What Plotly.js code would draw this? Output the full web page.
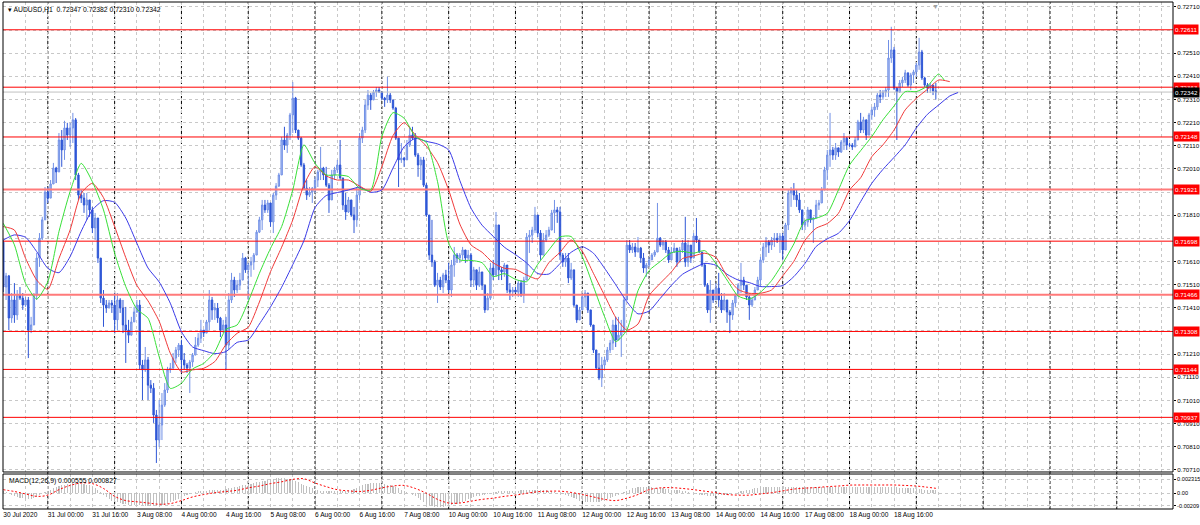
<!DOCTYPE html>
<html><head><meta charset="utf-8">
<script src="https://cdn.plot.ly/plotly-3.0.1.min.js"></script>
<style>html,body{margin:0;padding:0;background:#fff;}#chart{width:1200px;height:525px;}</style>
</head><body><div id="chart"></div>
<script>
const symbolName = 'AUDUSD,H1';
const firstOpen = 0.71694;
const closePrices = [
0.71500,0.71548,0.71366,0.71444,0.71379,0.71465,0.71452,0.71422,0.71444,0.71314,
0.71336,0.71465,0.71625,0.71711,0.71790,0.71910,0.71884,0.71945,0.72014,0.71997,
0.72135,0.72092,0.72187,0.72156,0.72187,0.72222,0.71984,0.71897,0.71884,0.71854,
0.71876,0.71833,0.71755,0.71798,0.71625,0.71452,0.71422,0.71409,0.71431,0.71422,
0.71358,0.71444,0.71409,0.71336,0.71314,0.71292,0.71349,0.71392,0.71422,0.71163,
0.71142,0.71185,0.71076,0.71063,0.70947,0.70839,0.70904,0.70990,0.71055,0.71142,
0.71150,0.71193,0.71228,0.71249,0.71185,0.71163,0.71150,0.71176,0.71206,0.71249,
0.71279,0.71314,0.71301,0.71349,0.71444,0.71401,0.71409,0.71366,0.71314,0.71336,
0.71249,0.71444,0.71530,0.71487,0.71508,0.71530,0.71625,0.71574,0.71595,0.71608,
0.71638,0.71737,0.71790,0.71854,0.71833,0.71863,0.71781,0.71897,0.71936,0.71984,
0.72135,0.72113,0.72156,0.72243,0.72316,0.72178,0.72143,0.72027,0.71927,0.71897,
0.71910,0.71927,0.71962,0.71997,0.72014,0.71984,0.71940,0.71876,0.71984,0.72006,
0.72027,0.71971,0.71854,0.71824,0.71876,0.71811,0.71790,0.71897,0.72143,0.72178,
0.72286,0.72329,0.72308,0.72342,0.72351,0.72342,0.72316,0.72308,0.72329,0.72308,
0.72273,0.72143,0.72049,0.72057,0.72049,0.72113,0.72156,0.72143,0.72070,0.72027,
0.72049,0.71940,0.71811,0.71638,0.71608,0.71508,0.71530,0.71500,0.71552,0.71530,
0.71487,0.71595,0.71638,0.71625,0.71638,0.71660,0.71625,0.71638,0.71530,0.71574,
0.71508,0.71565,0.71508,0.71401,0.71452,0.71582,0.71552,0.71768,0.71574,0.71565,
0.71595,0.71487,0.71478,0.71487,0.71478,0.71517,0.71465,0.71530,0.71716,0.71724,
0.71746,0.71811,0.71733,0.71638,0.71703,0.71724,0.71746,0.71820,0.71833,0.71824,
0.71638,0.71608,0.71625,0.71539,0.71574,0.71422,0.71358,0.71401,0.71457,0.71474,
0.71401,0.71336,0.71228,0.71150,0.71107,0.71163,0.71185,0.71228,0.71258,0.71336,
0.71271,0.71292,0.71314,0.71444,0.71681,0.71660,0.71673,0.71651,0.71668,0.71625,
0.71582,0.71595,0.71617,0.71638,0.71651,0.71711,0.71681,0.71694,0.71660,0.71617,
0.71651,0.71668,0.71608,0.71660,0.71690,0.71608,0.71681,0.71625,0.71720,0.71703,
0.71651,0.71595,0.71508,0.71401,0.71487,0.71444,0.71495,0.71444,0.71401,0.71444,
0.71392,0.71379,0.71431,0.71465,0.71508,0.71530,0.71508,0.71457,0.71422,0.71444,
0.71487,0.71530,0.71617,0.71673,0.71694,0.71681,0.71703,0.71711,0.71703,0.71720,
0.71660,0.71768,0.71906,0.71919,0.71897,0.71876,0.71833,0.71768,0.71781,0.71833,
0.71790,0.71798,0.71854,0.71863,0.71919,0.72006,0.72070,0.72092,0.72070,0.72101,
0.72083,0.72126,0.72143,0.72113,0.72113,0.72105,0.72135,0.72213,0.72178,0.72222,
0.72156,0.72243,0.72265,0.72278,0.72329,0.72321,0.72342,0.72351,0.72489,0.72524,
0.72359,0.72342,0.72381,0.72394,0.72425,0.72372,0.72416,0.72429,0.72459,0.72515,
0.72403,0.72372,0.72359,0.72372,0.72347,0.72342];
const highPrices = [
0.71703,0.71561,0.71552,0.71474,0.71517,0.71487,0.71500,0.71474,0.71457,0.71457,
0.71371,0.71474,0.71647,0.71733,0.71803,0.71932,0.71932,0.71962,0.72036,0.72019,
0.72165,0.72178,0.72218,0.72209,0.72209,0.72252,0.72230,0.71993,0.71919,0.71906,
0.71906,0.71876,0.71846,0.71820,0.71798,0.71625,0.71487,0.71444,0.71444,0.71444,
0.71474,0.71474,0.71452,0.71444,0.71414,0.71358,0.71371,0.71414,0.71444,0.71444,
0.71185,0.71241,0.71198,0.71098,0.71085,0.70969,0.71012,0.71042,0.71085,0.71155,
0.71172,0.71215,0.71241,0.71258,0.71271,0.71215,0.71172,0.71185,0.71215,0.71284,
0.71301,0.71358,0.71314,0.71358,0.71487,0.71457,0.71431,0.71431,0.71371,0.71358,
0.71371,0.71474,0.71561,0.71544,0.71530,0.71561,0.71647,0.71630,0.71604,0.71630,
0.71647,0.71746,0.71803,0.71876,0.71876,0.71876,0.71863,0.71906,0.71949,0.71993,
0.72148,0.72192,0.72165,0.72252,0.72385,0.72321,0.72178,0.72148,0.72036,0.71962,
0.71932,0.71932,0.71976,0.72006,0.72105,0.72019,0.72019,0.71949,0.72006,0.72019,
0.72049,0.72135,0.71971,0.71906,0.71889,0.71876,0.71846,0.71932,0.72165,0.72192,
0.72308,0.72351,0.72338,0.72351,0.72364,0.72364,0.72342,0.72321,0.72408,0.72338,
0.72308,0.72278,0.72143,0.72122,0.72062,0.72135,0.72192,0.72192,0.72165,0.72079,
0.72062,0.72062,0.71949,0.71811,0.71790,0.71617,0.71561,0.71544,0.71561,0.71574,
0.71604,0.71617,0.71673,0.71647,0.71647,0.71673,0.71660,0.71660,0.71647,0.71587,
0.71574,0.71587,0.71565,0.71508,0.71474,0.71604,0.71617,0.71824,0.71768,0.71587,
0.71604,0.71595,0.71517,0.71500,0.71500,0.71530,0.71530,0.71544,0.71733,0.71746,
0.71760,0.71846,0.71811,0.71746,0.71733,0.71746,0.71760,0.71833,0.71876,0.71846,
0.71846,0.71647,0.71647,0.71647,0.71604,0.71574,0.71422,0.71414,0.71474,0.71487,
0.71474,0.71401,0.71336,0.71228,0.71215,0.71198,0.71198,0.71241,0.71271,0.71358,
0.71371,0.71371,0.71358,0.71457,0.71703,0.71703,0.71690,0.71690,0.71716,0.71673,
0.71647,0.71604,0.71630,0.71647,0.71660,0.71863,0.71716,0.71703,0.71703,0.71673,
0.71673,0.71690,0.71668,0.71673,0.71703,0.71803,0.71703,0.71681,0.71733,0.71798,
0.71703,0.71651,0.71604,0.71517,0.71530,0.71487,0.71517,0.71561,0.71474,0.71474,
0.71444,0.71401,0.71444,0.71474,0.71517,0.71604,0.71544,0.71508,0.71474,0.71457,
0.71500,0.71544,0.71630,0.71690,0.71716,0.71703,0.71716,0.71733,0.71733,0.71733,
0.71733,0.71777,0.71919,0.71932,0.71949,0.71919,0.71906,0.71833,0.71790,0.71846,
0.71833,0.71803,0.71876,0.71876,0.71932,0.72019,0.72092,0.72252,0.72105,0.72122,
0.72101,0.72135,0.72165,0.72148,0.72122,0.72122,0.72148,0.72222,0.72252,0.72235,
0.72222,0.72252,0.72278,0.72295,0.72338,0.72351,0.72351,0.72364,0.72567,0.72624,
0.72537,0.72364,0.72394,0.72408,0.72438,0.72425,0.72425,0.72438,0.72468,0.72576,
0.72524,0.72408,0.72381,0.72381,0.72364,0.72382];
const lowPrices = [
0.71478,0.71444,0.71314,0.71345,0.71345,0.71358,0.71444,0.71401,0.71414,0.71193,
0.71301,0.71336,0.71444,0.71587,0.71703,0.71803,0.71863,0.71884,0.71945,0.71949,
0.71997,0.72019,0.72049,0.72135,0.72105,0.72122,0.71962,0.71876,0.71863,0.71820,
0.71790,0.71803,0.71733,0.71703,0.71604,0.71431,0.71328,0.71388,0.71409,0.71388,
0.71301,0.71314,0.71388,0.71301,0.71172,0.71258,0.71292,0.71349,0.71388,0.71142,
0.71012,0.71133,0.71012,0.71042,0.70913,0.70740,0.70809,0.70839,0.70982,0.71042,
0.71129,0.71142,0.71172,0.71198,0.71129,0.71142,0.71129,0.71042,0.71155,0.71206,
0.71241,0.71258,0.71284,0.71301,0.71314,0.71358,0.71358,0.71345,0.71284,0.71301,
0.71142,0.71228,0.71431,0.71457,0.71474,0.71487,0.71544,0.71561,0.71444,0.71544,
0.71574,0.71673,0.71733,0.71746,0.71820,0.71820,0.71760,0.71733,0.71876,0.71932,
0.71984,0.72092,0.72079,0.72135,0.72165,0.72165,0.72135,0.72019,0.71919,0.71876,
0.71889,0.71863,0.71906,0.71932,0.71962,0.71962,0.71932,0.71820,0.71876,0.71962,
0.71993,0.71962,0.71833,0.71790,0.71820,0.71803,0.71733,0.71760,0.71876,0.72122,
0.72165,0.72265,0.72265,0.72308,0.72321,0.72338,0.72308,0.72278,0.72295,0.72295,
0.72265,0.72135,0.71932,0.72036,0.72019,0.72049,0.72105,0.72135,0.72062,0.71976,
0.71962,0.71932,0.71803,0.71617,0.71587,0.71500,0.71431,0.71487,0.71474,0.71517,
0.71474,0.71457,0.71544,0.71604,0.71604,0.71617,0.71604,0.71617,0.71500,0.71500,
0.71487,0.71500,0.71487,0.71388,0.71401,0.71444,0.71530,0.71544,0.71530,0.71530,
0.71544,0.71474,0.71444,0.71457,0.71474,0.71457,0.71457,0.71431,0.71530,0.71647,
0.71690,0.71733,0.71716,0.71617,0.71638,0.71694,0.71716,0.71746,0.71733,0.71777,
0.71617,0.71587,0.71587,0.71517,0.71530,0.71414,0.71345,0.71358,0.71401,0.71414,
0.71388,0.71328,0.71215,0.71142,0.71098,0.71068,0.71142,0.71176,0.71215,0.71228,
0.71241,0.71271,0.71198,0.71301,0.71444,0.71647,0.71647,0.71630,0.71651,0.71604,
0.71561,0.71544,0.71587,0.71617,0.71630,0.71651,0.71673,0.71660,0.71647,0.71604,
0.71617,0.71647,0.71587,0.71608,0.71647,0.71587,0.71587,0.71604,0.71625,0.71690,
0.71647,0.71587,0.71500,0.71388,0.71345,0.71431,0.71444,0.71414,0.71388,0.71401,
0.71345,0.71301,0.71358,0.71414,0.71457,0.71474,0.71487,0.71444,0.71358,0.71414,
0.71444,0.71487,0.71500,0.71604,0.71630,0.71647,0.71660,0.71673,0.71690,0.71647,
0.71617,0.71660,0.71746,0.71846,0.71876,0.71846,0.71820,0.71746,0.71746,0.71760,
0.71777,0.71690,0.71798,0.71833,0.71863,0.71919,0.71962,0.72019,0.72049,0.72049,
0.72062,0.72079,0.72092,0.72092,0.72105,0.72092,0.72105,0.72135,0.72165,0.72165,
0.72135,0.72156,0.72222,0.72235,0.72265,0.72295,0.72308,0.72321,0.72321,0.72468,
0.72351,0.72135,0.72338,0.72364,0.72381,0.72364,0.72351,0.72381,0.72408,0.72438,
0.72394,0.72364,0.72338,0.72338,0.72329,0.72310];

const firstBarHour = 8;
const tickBars = [0,16,32,48,64,80,96,112,128,144,160,176,192,208,224,240,256,272,288,304,320];
const tickLabels = ['30 Jul 2020','31 Jul 00:00','31 Jul 16:00','3 Aug 08:00','4 Aug 00:00','4 Aug 16:00',
  '5 Aug 08:00','6 Aug 00:00','6 Aug 16:00','7 Aug 08:00','10 Aug 00:00','10 Aug 16:00','11 Aug 08:00',
  '12 Aug 00:00','12 Aug 16:00','13 Aug 08:00','14 Aug 00:00','14 Aug 16:00','17 Aug 08:00','18 Aug 00:00','18 Aug 16:00'];

// Alligator lines as drawn (already shifted forward)
const lipsBar = [0,4,8,12,16,20,24,28,32,36,40,44,48,52,56,60,64,68,72,76,80,84,88,92,96,100,104,108,112,116,120,124,128,132,136,140,144,148,152,156,160,164,168,172,176,180,184,188,192,196,200,204,208,212,216,220,224,228,232,236,240,244,248,252,256,260,264,268,272,276,280,284,288,292,296,300,304,308,312,316,320,324,328,332,336,338];
const lipsVal = [0.71775,0.71682,0.71516,0.71448,0.71523,0.71739,0.71912,0.72034,0.71955,0.71833,0.71646,0.71502,0.71404,0.71365,0.71199,0.71062,0.71084,0.71146,0.71170,0.71221,0.71317,0.71336,0.71437,0.71559,0.71667,0.71761,0.71919,0.72114,0.72034,0.71984,0.71984,0.71977,0.71926,0.71919,0.72150,0.72253,0.72229,0.72150,0.72124,0.71955,0.71689,0.71617,0.71615,0.71605,0.71545,0.71558,0.71533,0.71523,0.71598,0.71660,0.71716,0.71718,0.71631,0.71502,0.71372,0.71264,0.71314,0.71484,0.71571,0.71610,0.71648,0.71654,0.71646,0.71657,0.71602,0.71530,0.71461,0.71447,0.71477,0.71528,0.71602,0.71686,0.71787,0.71797,0.71818,0.71919,0.72027,0.72089,0.72150,0.72222,0.72282,0.72344,0.72344,0.72368,0.72420,0.72394];
const teethBar = [0,4,8,12,16,20,24,28,32,36,40,44,48,52,56,60,64,68,72,76,80,84,88,92,96,100,104,108,112,116,120,124,128,132,136,140,144,148,152,156,160,164,168,172,176,180,184,188,192,196,200,204,208,212,216,220,224,228,232,236,240,244,248,252,256,260,264,268,272,276,280,284,288,292,296,300,304,308,312,316,320,324,328,332,336,340];
const teethVal = [0.71761,0.71746,0.71624,0.71530,0.71490,0.71623,0.71746,0.71905,0.71948,0.71886,0.71761,0.71627,0.71507,0.71440,0.71352,0.71214,0.71133,0.71142,0.71149,0.71178,0.71252,0.71300,0.71326,0.71435,0.71566,0.71672,0.71790,0.71941,0.72020,0.71980,0.71962,0.71962,0.71936,0.71913,0.72020,0.72154,0.72210,0.72157,0.72108,0.72037,0.71919,0.71772,0.71682,0.71650,0.71604,0.71581,0.71576,0.71552,0.71535,0.71605,0.71650,0.71703,0.71654,0.71559,0.71464,0.71369,0.71314,0.71340,0.71463,0.71516,0.71565,0.71623,0.71634,0.71646,0.71628,0.71546,0.71489,0.71473,0.71473,0.71487,0.71548,0.71611,0.71702,0.71754,0.71774,0.71818,0.71919,0.71972,0.72063,0.72114,0.72178,0.72265,0.72315,0.72354,0.72394,0.72387];
const jawBar = [0,4,8,12,16,20,24,28,32,36,40,44,48,52,56,60,64,68,72,76,80,84,88,92,96,100,104,108,112,116,120,124,128,132,136,140,144,148,152,156,160,164,168,172,176,180,184,188,192,196,200,204,208,212,216,220,224,228,232,236,240,244,248,252,256,260,264,268,272,276,280,284,288,292,296,300,304,308,312,316,320,324,328,332,336,340,343];
const jawVal = [0.71703,0.71725,0.71715,0.71653,0.71581,0.71562,0.71631,0.71741,0.71833,0.71873,0.71866,0.71798,0.71689,0.71582,0.71522,0.71430,0.71307,0.71241,0.71225,0.71212,0.71221,0.71261,0.71271,0.71340,0.71414,0.71499,0.71597,0.71700,0.71843,0.71895,0.71908,0.71919,0.71931,0.71909,0.71919,0.72014,0.72106,0.72142,0.72129,0.72118,0.72092,0.71960,0.71841,0.71767,0.71719,0.71672,0.71640,0.71604,0.71558,0.71556,0.71601,0.71650,0.71674,0.71646,0.71581,0.71510,0.71437,0.71384,0.71396,0.71451,0.71507,0.71555,0.71581,0.71602,0.71594,0.71555,0.71530,0.71519,0.71502,0.71502,0.71506,0.71545,0.71602,0.71675,0.71708,0.71732,0.71787,0.71869,0.71948,0.72008,0.72060,0.72114,0.72187,0.72246,0.72286,0.72325,0.72340];

const levels = [0.72611,0.72363,0.72148,0.71921,0.71698,0.71466,0.71308,0.71144,0.70937];
const priceTicks = [0.70710,0.70810,0.70910,0.71010,0.71110,0.71210,0.71310,0.71410,0.71510,0.71610,0.71710,0.71810,0.71910,0.72010,0.72110,0.72210,0.72310,0.72410,0.72510,0.72610,0.72710];

const macdMain = [
0.0004,0.0002,0,-0.0002,-0.0004,-0.0006,-0.0007,-0.0008,-0.0009,-0.0009,
-0.0009,-0.0008,-0.0006,-0.0003,0,0.0002,0.0004,0.0006,0.0008,0.0010,
0.0012,0.0013,0.0014,0.0015,0.0016,0.0017,0.0017,0.0017,0.0016,0.0015,
0.0014,0.0013,0.0011,0.0009,0.0006,0.0002,-0.0002,-0.0006,-0.0009,-0.0012,
-0.0014,-0.0015,-0.0016,-0.0017,-0.0018,-0.0019,-0.0019,-0.0020,-0.0020,-0.0020,
-0.0020,-0.0021,-0.0021,-0.0021,-0.0021,-0.0021,-0.0021,-0.0020,-0.0019,-0.0017,
-0.0015,-0.0013,-0.0011,-0.0009,-0.0007,-0.0005,-0.0003,-0.0001,0.0001,0.0002,
0.0003,0.0004,0.0004,0.0004,0.0005,0.0005,0.0005,0.0005,0.0005,0.0006,
0.0007,0.0008,0.0009,0.0010,0.0011,0.0012,0.0013,0.0014,0.0015,0.0016,
0.0017,0.0018,0.0019,0.0020,0.0021,0.0022,0.0023,0.0024,0.0025,0.0025,
0.0025,0.0025,0.0024,0.0023,0.0022,0.0020,0.0018,0.0016,0.0014,0.0012,
0.0010,0.0008,0.0006,0.0005,0.0004,0.0003,0.0003,0.0003,0.0003,0.0003,
0.0003,0.0003,0.0003,0.0004,0.0005,0.0006,0.0007,0.0009,0.0011,0.0013,
0.0015,0.0016,0.0017,0.0017,0.0017,0.0017,0.0016,0.0015,0.0014,0.0013,
0.0012,0.0010,0.0008,0.0006,0.0004,0.0002,0,-0.0002,-0.0005,-0.0008,
-0.0011,-0.0014,-0.0017,-0.0019,-0.0021,-0.0022,-0.0022,-0.0022,-0.0022,-0.0021,
-0.0020,-0.0019,-0.0018,-0.0017,-0.0016,-0.0014,-0.0012,-0.0010,-0.0008,-0.0006,
-0.0005,-0.0004,-0.0003,-0.0002,-0.0001,0,0.0001,0.0002,0.0003,0.0003,
0.0003,0.0003,0.0003,0.0004,0.0004,0.0004,0.0005,0.0005,0.0005,0.0005,
0.0005,0.0005,0.0005,0.0005,0.0005,0.0005,0.0004,0.0003,0.0002,0.0001,
0,-0.0001,-0.0002,-0.0004,-0.0006,-0.0008,-0.0010,-0.0012,-0.0013,-0.0014,
-0.0015,-0.0015,-0.0015,-0.0015,-0.0014,-0.0013,-0.0012,-0.0010,-0.0008,-0.0006,
-0.0004,-0.0002,0,0.0002,0.0004,0.0006,0.0008,0.0009,0.0010,0.0010,
0.0010,0.0010,0.0010,0.0010,0.0009,0.0009,0.0008,0.0008,0.0007,0.0007,
0.0006,0.0006,0.0005,0.0005,0.0004,0.0003,0.0002,0.0001,0,-0.0001,
-0.0002,-0.0003,-0.0003,-0.0004,-0.0004,-0.0004,-0.0004,-0.0003,-0.0003,-0.0002,
-0.0002,-0.0001,0,0.0001,0.0002,0.0003,0.0004,0.0005,0.0006,0.0007,
0.0008,0.0009,0.0010,0.0011,0.0011,0.0011,0.0011,0.0011,0.0011,0.0011,
0.0011,0.0011,0.0011,0.0011,0.0011,0.0011,0.0011,0.0011,0.0011,0.0011,
0.0011,0.0011,0.0011,0.0011,0.0011,0.0011,0.0011,0.0011,0.0011,0.0011,
0.0011,0.0011,0.0011,0.0011,0.0011,0.0011,0.0010,0.0010,0.0010,0.0010,
0.0010,0.0010,0.0010,0.0010,0.0010,0.0010,0.0010,0.0010,0.0010,0.0010,
0.0010,0.0010,0.0009,0.0009,0.0009,0.0008,0.0008,0.0008,0.0007,0.0007,
0.0007,0.0006,0.0006,0.0006,0.0006,0.000555];
const signalBar = [0,4,8,12,16,20,24,28,32,36,40,44,48,52,56,60,64,68,72,76,80,84,88,92,96,100,104,108,112,116,120,124,128,132,136,140,144,148,152,156,160,164,168,172,176,180,184,188,192,196,200,204,208,212,216,220,224,228,232,236,240,244,248,252,256,260,264,268,272,276,280,284,288,292,296,300,304,308,312,316,320,324,328,332,335];
const signalVal = [0.0006,0.0003,-0.0001,-0.0005,-0.0003,0.0006,0.0013,0.0017,0.0016,0.0008,-0.0005,-0.0012,-0.0014,-0.0016,-0.0018,-0.0017,-0.0012,-0.0006,-0.0002,0.0001,0.0003,0.0005,0.0009,0.0012,0.0016,0.0019,0.0023,0.0024,0.0017,0.0011,0.0006,0.0004,0.0003,0.0005,0.0009,0.0012,0.0013,0.0008,0,-0.0010,-0.0016,-0.0016,-0.0013,-0.0010,-0.0008,-0.0005,-0.0003,0,0.00026,0.00035,0.00035,0.00015,-0.0002,-0.0006,-0.0010,-0.0012,-0.0008,-0.0002,0.0006,0.0009,0.00093,0.0008,0.0006,0.00035,0.0001,-0.0002,-0.0003,-0.0003,-0.0001,0.0001,0.0004,0.0007,0.00085,0.00095,0.0011,0.0012,0.00135,0.00137,0.00137,0.00137,0.00137,0.0013,0.0012,0.0010,0.000827];
const macdTicks = [0.002315, 0, -0.00209];
const macdTickText = ['0.002315', '0.00', '-0.00209'];

// ---------- build ----------
const n = closePrices.length;
const bars = closePrices.map((_, i) => i);
const openPrices = closePrices.map((c, i) => i === 0 ? firstOpen : closePrices[i - 1]);
const hi = highPrices.map((h, i) => Math.max(h, openPrices[i], closePrices[i]));
const lo = lowPrices.map((l, i) => Math.min(l, openPrices[i], closePrices[i]));
const last = n - 1;
const lastClose = closePrices[last];

const xMin = -0.1, xMax = 420.2;
const gridVals = [], gridText = [];
for (let b = 0; b <= 416; b += 8) {
  gridVals.push(b);
  const k = tickBars.indexOf(b);
  gridText.push(k >= 0 ? tickLabels[k] : '');
}
const daySeps = [];
for (let b = 0; b <= xMax; b++) if ((firstBarHour + b) % 24 === 0) daySeps.push(b);

// price tick labels that sit under a level label are hidden, as on the terminal
const priceTickText = priceTicks.map(v => levels.some(l => Math.abs(l - v) < 0.00016) ? '' : v.toFixed(5));

// two of the level lines are drawn wider and paler on the terminal
const wideLevels = new Set(['0.71921', '0.71466']);

const FONT = 'Liberation Sans, Arial, sans-serif';
const FS = 6.2;
const mainDom = [0.073, 1];
const macdDom = [0, 0.069];

const traces = [];
levels.forEach(lv => {
  const wide = wideLevels.has(lv.toFixed(5));
  traces.push({type:'scatter', mode:'lines', x:[xMin, xMax], y:[lv, lv], xaxis:'x', yaxis:'y',
    line:{color: wide ? '#ff7a7a' : '#ff0000', width: wide ? 2 : 1}, hoverinfo:'skip'});
});
traces.push({type:'scatter', mode:'lines', x:[xMin, xMax], y:[lastClose, lastClose], xaxis:'x', yaxis:'y',
  line:{color:'#c0c0c0', width:1}, hoverinfo:'skip'});
traces.push(
  {type:'candlestick', x:bars, open:openPrices, high:hi, low:lo, close:closePrices,
   xaxis:'x', yaxis:'y', whiskerwidth:0, hoverinfo:'skip', showlegend:false,
   increasing:{line:{color:'#7190e6', width:1}, fillcolor:'#b3c4f2'},
   decreasing:{line:{color:'#2f57d6', width:1}, fillcolor:'#2f57d6'}},
  {type:'scatter', mode:'lines', x:jawBar, y:jawVal, xaxis:'x', yaxis:'y',
   line:{color:'#3a3ae8', width:1, shape:'spline', smoothing:0.6}, hoverinfo:'skip'},
  {type:'scatter', mode:'lines', x:teethBar, y:teethVal, xaxis:'x', yaxis:'y',
   line:{color:'#f03a3a', width:1, shape:'spline', smoothing:0.6}, hoverinfo:'skip'},
  {type:'scatter', mode:'lines', x:lipsBar, y:lipsVal, xaxis:'x', yaxis:'y',
   line:{color:'#38e038', width:1, shape:'spline', smoothing:0.6}, hoverinfo:'skip'},
  {type:'bar', x:bars, y:macdMain, xaxis:'x', yaxis:'y2', width:0.4,
   marker:{color:'#c0c0c0', line:{width:0}}, hoverinfo:'skip'},
  {type:'scatter', mode:'lines', x:signalBar, y:signalVal, xaxis:'x', yaxis:'y2',
   line:{color:'#ff0000', width:1, dash:'2px,2px', shape:'spline'}, hoverinfo:'skip'}
);

const shapes = [];
daySeps.forEach(b => shapes.push({type:'line', xref:'x', yref:'paper', x0:b, x1:b, y0:0, y1:1,
  line:{color:'#000', width:1, dash:'3px,2px'}, layer:'below'}));
shapes.push({type:'rect', xref:'paper', yref:'paper', x0:0, x1:1, y0:mainDom[0], y1:mainDom[1],
  line:{color:'#000', width:1}});
shapes.push({type:'rect', xref:'paper', yref:'paper', x0:0, x1:1, y0:macdDom[0], y1:macdDom[1],
  line:{color:'#000', width:1}});

const annotations = [];
annotations.push({xref:'paper', yref:'paper', x:0, y:1, xanchor:'left', yanchor:'top', xshift:3, yshift:-2,
  showarrow:false, align:'left', font:{family:FONT, size:6.8, color:'#000'},
  text:'\u25BE ' + symbolName + '  ' + openPrices[last].toFixed(5) + ' ' + highPrices[last].toFixed(5) + ' ' +
       lowPrices[last].toFixed(5) + ' ' + closePrices[last].toFixed(5)});
annotations.push({xref:'paper', yref:'paper', x:0, y:macdDom[1], xanchor:'left', yanchor:'top', xshift:4, yshift:-1,
  showarrow:false, font:{family:FONT, size:6.8, color:'#000'},
  text:'MACD(12,26,9) ' + macdMain[last].toFixed(6) + ' ' + signalVal[signalVal.length - 1].toFixed(6)});
levels.forEach(lv => annotations.push({xref:'paper', yref:'y', x:1, y:lv, xanchor:'left', yanchor:'middle',
  xshift:0, showarrow:false, text:lv.toFixed(5), bgcolor:'#ff0000', borderpad:1,
  font:{family:FONT, size:FS, color:'#fff'}}));
annotations.push({xref:'paper', yref:'y', x:1, y:lastClose, xanchor:'left', yanchor:'middle',
  showarrow:false, text:lastClose.toFixed(5), bgcolor:'#000', borderpad:1,
  font:{family:FONT, size:FS, color:'#fff'}});
annotations.push({xref:'x', yref:'paper', x:last, y:1, xanchor:'center', yanchor:'top', yshift:1,
  showarrow:false, text:'\u25BC', font:{family:FONT, size:7, color:'#a0a0a0'}});

const layout = {
  width:1200, height:525, margin:{l:3, r:27, t:2, b:16},
  paper_bgcolor:'#fff', plot_bgcolor:'#fff', showlegend:false, dragmode:false, bargap:0,
  font:{family:FONT, size:FS, color:'#000'},
  xaxis:{range:[xMin, xMax], anchor:'y2', tickmode:'array', tickvals:gridVals, ticktext:gridText,
    tickangle:0, automargin:false,
    showgrid:true, gridcolor:'#c8c8c8', griddash:'3px,3px', gridwidth:1, zeroline:false, showline:false,
    ticks:'', ticklabelposition:'outside right', tickfont:{family:FONT, size:6.6, color:'#000'},
    rangeslider:{visible:false}, fixedrange:true},
  yaxis:{domain:mainDom, range:[0.70701, 0.72731], side:'right', anchor:'x', tickmode:'array',
    tickvals:priceTicks, ticktext:priceTickText, automargin:false,
    showgrid:true, gridcolor:'#c8c8c8', griddash:'3px,3px', zeroline:false, showline:false,
    ticks:'outside', ticklen:2, tickcolor:'#000', tickfont:{family:FONT, size:FS, color:'#000'}, fixedrange:true},
  yaxis2:{domain:macdDom, range:[-0.00259, 0.003185], side:'right', anchor:'x', tickmode:'array',
    tickvals:macdTicks, ticktext:macdTickText, automargin:false,
    showgrid:true, gridcolor:'#c8c8c8', griddash:'3px,3px', zeroline:false, showline:false,
    ticks:'outside', ticklen:2, tickcolor:'#000', tickfont:{family:FONT, size:5.6, color:'#000'}, fixedrange:true},
  shapes:shapes, annotations:annotations
};

Plotly.newPlot('chart', traces, layout, {displayModeBar:false, staticPlot:true});
</script></body></html>
